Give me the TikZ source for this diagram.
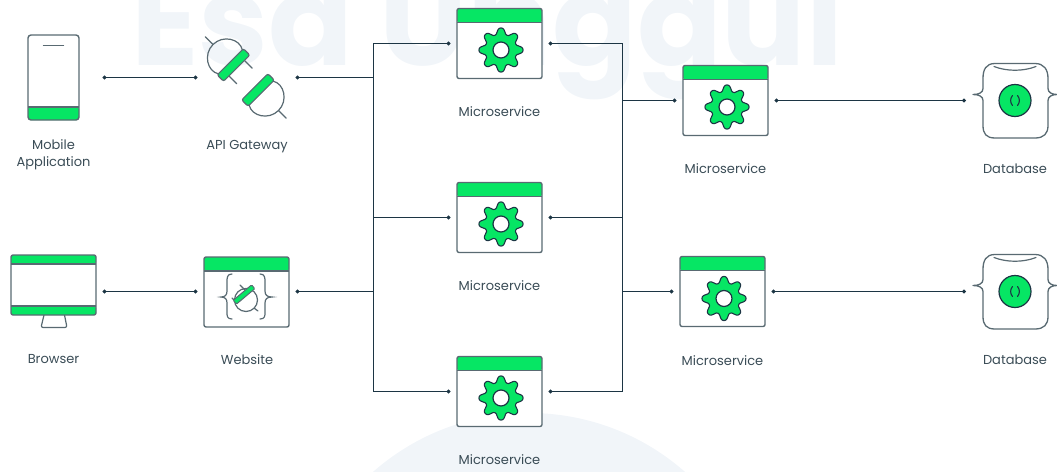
\documentclass[tikz,border=0pt]{standalone}
\usepackage{fontspec}
\setmainfont{Poppins}
\usetikzlibrary{arrows.meta}
\definecolor{gr}{HTML}{06E664}
\definecolor{st}{HTML}{596A72}
\definecolor{wi}{HTML}{1C3544}
\definecolor{tx}{HTML}{3A4C56}
\definecolor{wm}{HTML}{F1F5F9}
\tikzset{
  slot/.style={inner sep=0pt,outer sep=0pt},
  lbl/.style={inner sep=0pt,text=tx,font=\fontsize{13}{17}\selectfont,align=center},
  icon/.style={draw=st,line width=1.4pt,line join=round},
  thin icon/.style={draw=st,line width=1.2pt,line cap=round},
  wire/.style={draw=wi,line width=1pt},
  bothdot/.style={wire,{Circle[length=4pt]}-{Circle[length=4pt]}},
  enddot/.style={wire,-{Circle[length=4pt]}},
  pics/window/.style={code={
    \path[fill=white,rounded corners=2pt] (-42.5,-35) rectangle (42.5,35);
    \path[fill=gr,rounded corners=2pt] (-42.5,-35) rectangle (42.5,-21);
    \draw[icon,rounded corners=2pt] (-42.5,-35) rectangle (42.5,35);
    \draw[icon] (-42.5,-21) -- (42.5,-21);
  }},
  pics/gearicon/.style={code={
    \draw[draw=wi,line width=1.1pt,fill=gr,line join=round]
      plot[domain=0:360,samples=145,smooth] ({(19+3*(1.35*cos(8*\x)-0.35*pow(cos(8*\x),3)))*cos(\x)},{(19+3*(1.35*cos(8*\x)-0.35*pow(cos(8*\x),3)))*sin(\x)}) -- cycle;
    \draw[draw=wi,line width=1.2pt,fill=white] (0,0) circle (8);
  }},
  pics/plugbody/.style={code={
    \draw[thin icon] (0,-29) -- (0,-40);
    \draw[thin icon] (-17,-4.5) .. controls (-23,-14) and (-14,-29) .. (0,-29) .. controls (14,-29) and (23,-14) .. (17,-4.5);
    \draw[draw=st,line width=1.2pt,fill=gr,rounded corners=2pt] (-18.5,-4.5) rectangle (18.5,4.5);
  }},
  pics/dbicon/.style={code={
    \draw[icon,line width=1.3pt]
      (-20,-37) -- (20,-37)
      .. controls (29,-37) and (33,-31) .. (33,-22) -- (33,-12)
      .. controls (33,-8) and (37,-6) .. (42,-6)
      .. controls (37,-6) and (33,-4) .. (33,0) -- (33,25)
      .. controls (33,33) and (29,37.5) .. (20,37.5) -- (-20,37.5)
      .. controls (-29,37.5) and (-32,33) .. (-32,25) -- (-32,0)
      .. controls (-32,-4) and (-36,-6) .. (-42,-6)
      .. controls (-36,-6) and (-32,-8) .. (-32,-12) -- (-32,-22)
      .. controls (-32,-31) and (-29,-37) .. (-20,-37) -- cycle;
    \draw[thin icon] (-21,-34) .. controls (-8,-29) and (8,-29) .. (21,-34);
    \draw[draw=wi,line width=1.2pt,fill=gr] (0,0) circle (16);
    \draw[draw=wi,line width=1.1pt,line cap=round] (-2.5,-5) .. controls (-5,-2) and (-5,2) .. (-2.5,5);
    \draw[draw=wi,line width=1.1pt,line cap=round] (2.5,-5) .. controls (5,-2) and (5,2) .. (2.5,5);
  }},
}
\begin{document}
\begin{tikzpicture}[x=1pt,y=-1pt]
\useasboundingbox (0,0) rectangle (1057,471);
\clip (0,0) rectangle (1057,471);
% watermark
\fill[wm] (529,649) circle (236);
\node[slot,anchor=base west,text=wm,font=\fontsize{125}{125}\selectfont\bfseries] (mark) at (131,65) {Esa Unggul};

% placement nodes (widths include the gap to the connector dot)
\node[slot,minimum width=98pt,minimum height=85pt] (phone) at (53.5,77.5) {};
\node[slot,minimum width=98pt,minimum height=85pt] (api) at (246.5,77.5) {};
\node[slot,minimum width=98pt,minimum height=70pt] (browser) at (53.5,291.5) {};
\node[slot,minimum width=98pt,minimum height=70pt] (web) at (246.5,291.5) {};
\node[slot,minimum width=98pt,minimum height=70pt] (ms1) at (499.5,43.5) {};
\node[slot,minimum width=98pt,minimum height=70pt] (ms2) at (499.5,217.5) {};
\node[slot,minimum width=98pt,minimum height=70pt] (ms3) at (499.5,391.5) {};
\node[slot,minimum width=98pt,minimum height=70pt] (ms4) at (725.5,100.5) {};
\node[slot,minimum width=98pt,minimum height=70pt] (ms5) at (722.5,291.5) {};
\node[slot,minimum width=98pt,minimum height=75pt] (db1) at (1015,100.5) {};
\node[slot,minimum width=98pt,minimum height=75pt] (db2) at (1015,291.5) {};
\coordinate (busL) at (373.5,217.5);
\coordinate (busR) at (622.5,217.5);

% connectors
\draw[bothdot] (phone.east) -- (api.west);
\draw[bothdot] (browser.east) -- (web.west);
\draw[enddot] (busL |- api.east) -- (api.east);
\draw[enddot] (busL |- web.east) -- (web.east);
\draw[bothdot] (ms1.west) -- (ms1.west -| busL) -- (ms3.west -| busL) -- (ms3.west);
\draw[enddot] (busL) -- (ms2.west);
\draw[bothdot] (ms1.east) -- (ms1.east -| busR) -- (ms3.east -| busR) -- (ms3.east);
\draw[enddot] (busR) -- (ms2.east);
\draw[enddot] (busR |- ms4.west) -- (ms4.west);
\draw[enddot] (busR |- ms5.west) -- (ms5.west);
\draw[bothdot] (ms4.east) -- (db1.west);
\draw[bothdot] (ms5.east) -- (db2.west);

% phone
\path[fill=white,rounded corners=3pt] (28,35) rectangle (79,120);
\path[fill=gr,rounded corners=2pt] (28,107) rectangle (79,120);
\draw[icon,rounded corners=3pt] (28,35) rectangle (79,120);
\draw[icon] (28,107) -- (79,107);
\draw[thin icon] (43.5,45.5) -- (63.5,45.5);

% api gateway
\pic[rotate=45] at (233.5,65) {plugbody};
\begin{scope}[shift={(233.5,65)},rotate=45]
  \draw[thin icon] (-11,5) -- (-11,15.5) (11,5) -- (11,15.5);
\end{scope}
\pic[rotate=225] at (258,90) {plugbody};

% browser
\draw[icon,line width=1.2pt,rounded corners=2pt,line join=round] (44,315) -- (41,327.5) -- (67,327.5) -- (64.5,315);
\path[fill=white] (11,255) rectangle (96,315);
\path[fill=gr,rounded corners=2pt] (11,255) rectangle (96,264);
\path[fill=gr,rounded corners=2pt] (11,306) rectangle (96,315);
\draw[icon,rounded corners=2pt] (11,255) rectangle (96,315);
\draw[icon] (11,264) -- (96,264) (11,306) -- (96,306);

% website
\pic at (246.5,292) {window};
\begin{scope}[shift={(246,297)}]
  \draw[thin icon] (-14,-23) .. controls (-19,-23) and (-19,-19) .. (-19,-15) -- (-19,-6)
    .. controls (-19,-2) and (-21,0) .. (-25,0) .. controls (-21,0) and (-19,2) .. (-19,6)
    -- (-19,15) .. controls (-19,19) and (-19,22) .. (-14,22);
  \draw[thin icon] (14,-23) .. controls (19,-23) and (19,-19) .. (19,-15) -- (19,-6)
    .. controls (19,-2) and (21,0) .. (26,0) .. controls (21,0) and (19,2) .. (19,6)
    -- (19,15) .. controls (19,19) and (19,22) .. (14,22);
  \draw[thin icon] (0,3) circle (11.5);
  \draw[thin icon] (-6,-12) -- (-1,-7) (-14,1) -- (-10,5) (8,11) -- (12,14);
  \draw[draw=st,line width=1pt,fill=gr,rounded corners=1pt,shift={(-2,-2.5)},rotate=40] (-12,-2.5) rectangle (12,2.5);
\end{scope}

% microservices
\pic at (ms1) {window}; \pic at (501,50) {gearicon};
\pic at (ms2) {window}; \pic at (501,224) {gearicon};
\pic at (ms3) {window}; \pic at (501,398) {gearicon};
\pic at (ms4) {window}; \pic at (727,107) {gearicon};
\pic at (ms5) {window}; \pic at (724,298.5) {gearicon};

% databases
\pic at (db1) {dbicon};
\pic at (db2) {dbicon};

% labels
\node[lbl] (lphone) at (53.5,154.5) {Mobile\\Application};
\node[lbl] (lapi) at (247,146.5) {API Gateway};
\node[lbl] (lbrowser) at (53.5,359.5) {Browser};
\node[lbl] (lweb) at (247,359.5) {Website};
\node[lbl] (lms1) at (499.5,111.5) {Microservice};
\node[lbl] (lms2) at (499.5,285.5) {Microservice};
\node[lbl] (lms3) at (499.5,459.5) {Microservice};
\node[lbl] (lms4) at (725.5,168.5) {Microservice};
\node[lbl] (lms5) at (722.5,360.5) {Microservice};
\node[lbl] (ldb1) at (1015,168.5) {Database};
\node[lbl] (ldb2) at (1015,359.5) {Database};
\end{tikzpicture}
\end{document}
